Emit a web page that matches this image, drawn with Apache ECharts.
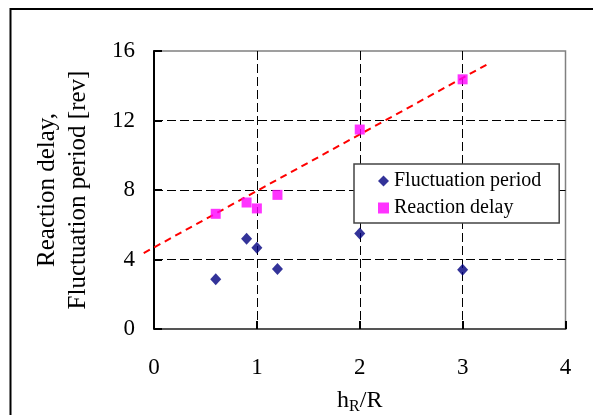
<!DOCTYPE html>
<html>
<head>
<meta charset="utf-8">
<script src="https://cdn.jsdelivr.net/npm/echarts@6/dist/echarts.min.js"></script>
<style>
html,body{margin:0;padding:0;background:#fff;}
#chart{width:593px;height:415px;}
</style>
</head>
<body>
<div id="chart"></div>
<script>
// Data
const fluctX = [0.6, 0.9, 1.0, 1.2, 2.0, 3.0];
const fluctY = [2.87, 5.2, 4.67, 3.45, 5.5, 3.41];
const delayX = [0.6, 0.9, 1.0, 1.2, 2.0, 3.0];
const delayY = [6.63, 7.28, 6.94, 7.72, 11.48, 14.37];
const trendX = [-0.1, 3.27];
const trendY = [4.37, 15.33];
const xTicks = [0, 1, 2, 3, 4];
const yTicks = [0, 4, 8, 12, 16];
const seriesNames = ['Fluctuation period', 'Reaction delay'];

const pairs = (xs, ys) => xs.map((x, i) => [x, ys[i]]);
const FONT = 'Liberation Serif';

const chart = echarts.init(document.getElementById('chart'), null, {renderer: 'canvas'});
chart.setOption({
  animation: false,
  backgroundColor: '#fff',
  textStyle: {fontFamily: FONT, color: '#000'},
  grid: {left: 154, right: 27.5, top: 51, bottom: 86, containLabel: false, outerBoundsMode: 'none',
         show: true, borderColor: '#808080', borderWidth: 1.5, backgroundColor: 'transparent'},
  xAxis: {
    type: 'value', min: xTicks[0], max: xTicks[xTicks.length - 1], interval: 1,
    name: '{a|h}{s|R}{a|/R}', nameLocation: 'middle', nameGap: 58,
    nameTextStyle: {rich: {a: {fontFamily: FONT, fontSize: 24, color: '#000'}, s: {fontFamily: FONT, fontSize: 16, color: '#000', padding: [12, 0, 0, 0]}}},
    axisLine: {show: true, lineStyle: {color: '#555', width: 2}},
    axisTick: {show: true, inside: true, length: 8, lineStyle: {color: '#000', width: 2}},
    axisLabel: {margin: 27, fontSize: 23, color: '#000', fontFamily: FONT},
    splitLine: {show: true, showMinLine: false, showMaxLine: false, lineStyle: {color: '#000', type: [9, 4], width: 1}}
  },
  yAxis: {
    type: 'value', min: yTicks[0], max: yTicks[yTicks.length - 1], interval: 4,
    name: 'Reaction delay,\nFluctuation period [rev]', nameLocation: 'middle', nameGap: 60, nameRotate: 90,
    nameTextStyle: {fontFamily: FONT, fontSize: 25, lineHeight: 31, color: '#000', align: 'center'},
    axisLine: {show: true, lineStyle: {color: '#000', width: 2}},
    axisTick: {show: true, inside: true, length: 8, lineStyle: {color: '#000', width: 2}},
    axisLabel: {margin: 19, fontSize: 23, color: '#000', fontFamily: FONT},
    splitLine: {show: true, showMinLine: false, showMaxLine: false, lineStyle: {color: '#000', type: [9, 4], width: 1}}
  },
  legend: {
    data: [
      {name: seriesNames[0], icon: 'diamond'},
      {name: seriesNames[1], icon: 'rect'}
    ],
    orient: 'vertical', left: 354, top: 164,
    padding: [7, 18, 5, 24], itemGap: 7, itemWidth: 11, itemHeight: 11,
    backgroundColor: '#fff', borderColor: '#444', borderWidth: 1.5, borderRadius: 0,
    textStyle: {fontFamily: FONT, fontSize: 20, color: '#000', lineHeight: 20}
  },
  graphic: [
    {type: 'polyline', shape: {points: [[10.5, 415], [10.5, 9], [593, 9]]}, style: {stroke: '#000', lineWidth: 2, fill: null}, silent: true}
  ],
  series: [
    {
      name: 'trend', type: 'custom', clip: false, z: 3,
      data: [[trendX[0], trendY[0], trendX[1], trendY[1]]],
      encode: {x: [0, 2], y: [1, 3]},
      renderItem: function (params, api) {
        const p1 = api.coord([api.value(0), api.value(1)]);
        const p2 = api.coord([api.value(2), api.value(3)]);
        return {
          type: 'line',
          shape: {x1: p1[0], y1: p1[1], x2: p2[0], y2: p2[1]},
          style: {stroke: '#ff0000', lineWidth: 2, lineDash: [7, 5], fill: null}
        };
      }
    },
    {
      name: seriesNames[0], type: 'scatter', data: pairs(fluctX, fluctY), symbol: 'diamond', symbolSize: [11, 12],
      itemStyle: {color: '#000080'}, z: 4
    },
    {
      name: seriesNames[1], type: 'scatter', data: pairs(delayX, delayY), symbol: 'rect', symbolSize: 10,
      itemStyle: {color: '#ff00ff'}, z: 4
    }
  ]
});
</script>
</body>
</html>
